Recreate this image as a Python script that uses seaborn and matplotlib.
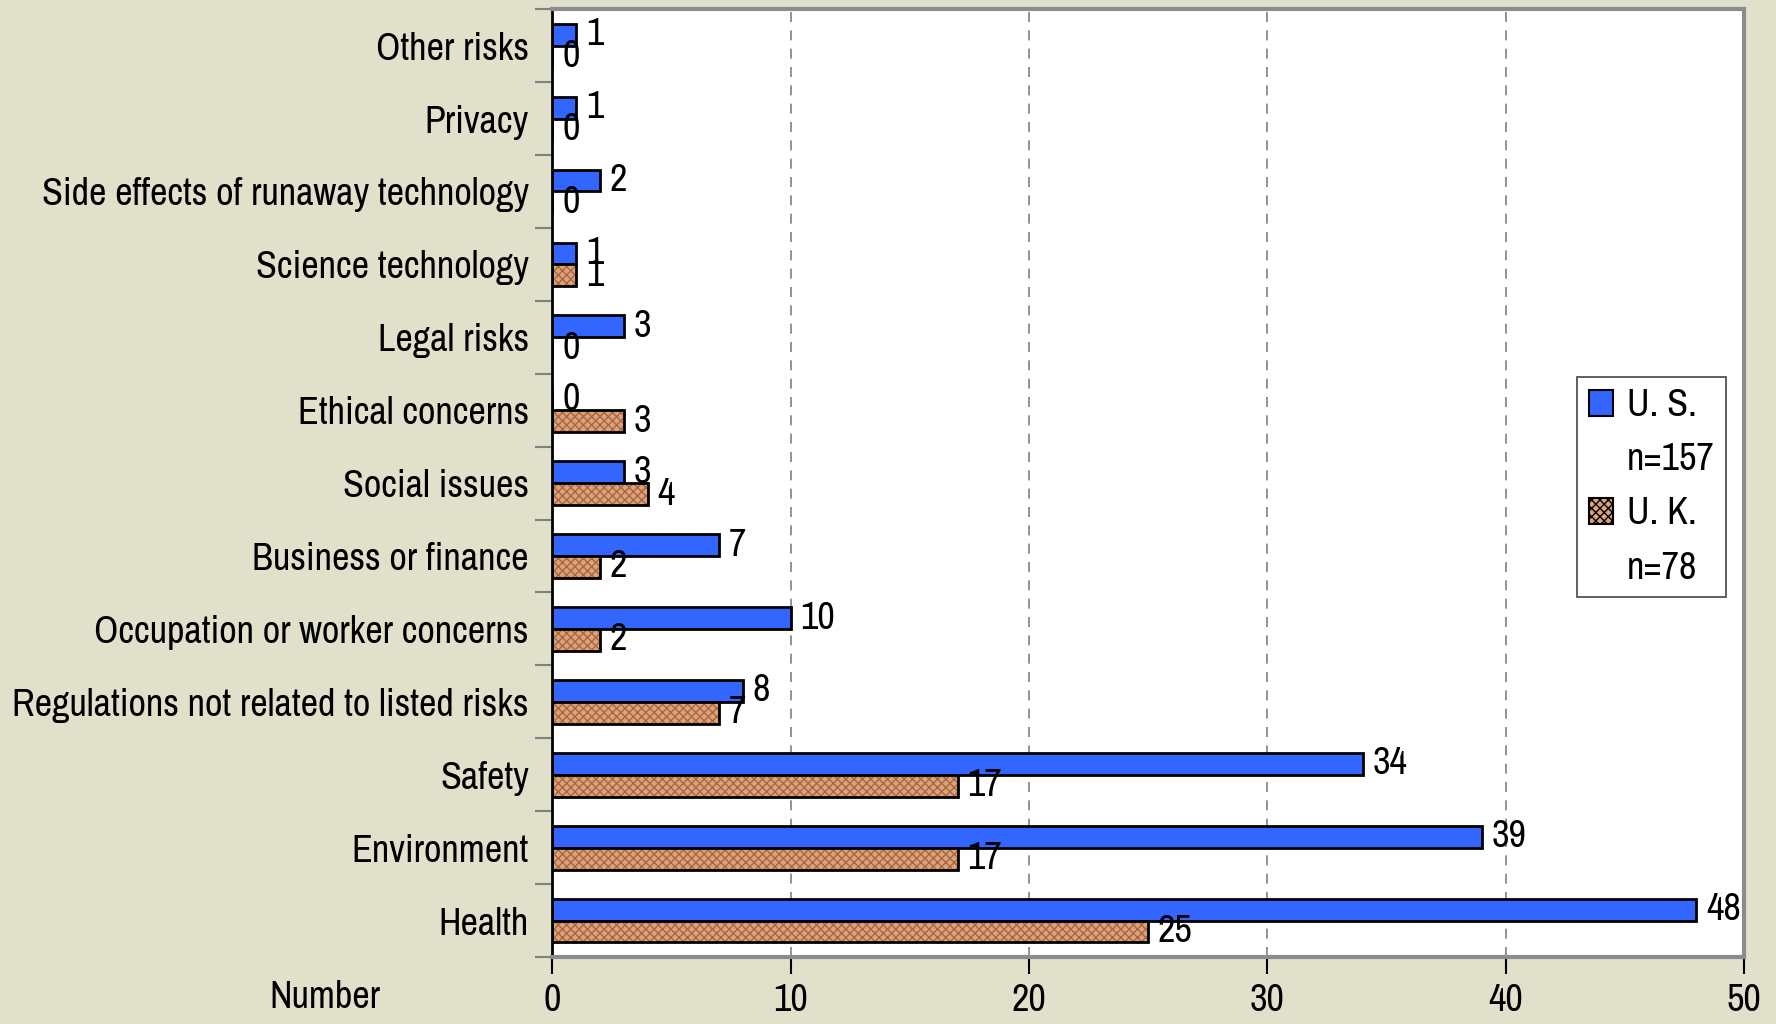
import pandas as pd
import matplotlib
matplotlib.use("Agg")
import matplotlib.pyplot as plt
import matplotlib.patches as mpatches
import seaborn as sns

categories = ["Other risks", "Privacy", "Side effects of runaway technology",
              "Science technology", "Legal risks", "Ethical concerns",
              "Social issues", "Business or finance",
              "Occupation or worker concerns",
              "Regulations not related to listed risks", "Safety",
              "Environment", "Health"]
us_counts = [1, 1, 2, 1, 3, 0, 3, 7, 10, 8, 34, 39, 48]
uk_counts = [0, 0, 0, 1, 0, 3, 4, 2, 2, 7, 17, 17, 25]
series = ["U. S.", "U. K."]
sample_sizes = ["n=157", "n=78"]
x_ticks = [0, 10, 20, 30, 40, 50]

df = pd.DataFrame({
    "category": categories * 2,
    "count": us_counts + uk_counts,
    "country": [series[0]] * len(categories) + [series[1]] * len(categories),
})

sns.set_style("white")
plt.rcParams["font.family"] = ["Archivo Narrow", "DejaVu Sans"]
plt.rcParams["font.size"] = 27.5
plt.rcParams["text.color"] = "black"
plt.rcParams["xtick.color"] = "black"
plt.rcParams["ytick.color"] = "black"

fs = 27.5
bg = "#e1e0cb"
blue = "#3366ff"
tan = "#dba27c"

fig = plt.figure(figsize=(17.76, 10.24), dpi=100, facecolor=bg)
ax = fig.add_axes([0.311, 0.0654, 0.671, 0.9256])
ax.set_facecolor("white")

sns.barplot(data=df, y="category", x="count", hue="country", order=categories,
            hue_order=series, palette=[blue, tan], width=0.6, orient="h",
            edgecolor="black", linewidth=2, saturation=1, legend=False, ax=ax)

# texture for the U.K. bars: brown hatch, then a black outline on top
uk_bars = ax.containers[1]
for p in uk_bars.patches:
    p.set_hatch("xxxx")
    p.set_edgecolor("#a8683f")
    p.set_linewidth(0)
    ax.add_patch(mpatches.Rectangle((p.get_x(), p.get_y()), p.get_width(),
                                    p.get_height(), fill=False,
                                    edgecolor="black", linewidth=2, zorder=3))

for cont in ax.containers:
    ax.bar_label(cont, padding=7, fontsize=fs, color="black")

ax.set_xlim(0, 50)
ax.set_ylim(len(categories) - 0.5, -0.5)
ax.set_xticks(x_ticks)
ax.xaxis.grid(True, linestyle=(0, (6, 5)), color="#808080", linewidth=1.2)
ax.set_axisbelow(True)
ax.tick_params(axis="x", direction="out", length=12, width=1.5,
               pad=7, labelsize=fs, bottom=True)
ax.set_yticks([i + 0.5 for i in range(-1, len(categories))], minor=True)
ax.tick_params(axis="y", which="minor", length=12, width=1.5, color="#808080",
               left=True)
ax.tick_params(axis="y", which="major", length=0, pad=17, labelsize=fs)
ax.set_xlabel("")
ax.set_ylabel("")

for side in ["top", "right", "bottom"]:
    ax.spines[side].set_color("#8c8c8c")
    ax.spines[side].set_linewidth(3)
ax.spines["left"].set_color("black")
ax.spines["left"].set_linewidth(2)

fig.text(0.183, 0.026, "Number", fontsize=fs, ha="center", va="center")

# legend: swatch beside the country, sample size on its own line below
blank = mpatches.Patch(visible=False)
handles = [mpatches.Patch(facecolor=blue, edgecolor="black", linewidth=1.5), blank,
           mpatches.Patch(facecolor=tan, edgecolor="black", linewidth=1.5,
                          hatch="xxxx"), blank]
labels = [series[0], sample_sizes[0], series[1], sample_sizes[1]]
leg = ax.legend(handles, labels, loc="center left", bbox_to_anchor=(0.86, 0.496),
                borderaxespad=0, frameon=True, fancybox=False,
                edgecolor="#444444", fontsize=fs, handlelength=0.65,
                handleheight=0.65, handletextpad=0.35, labelspacing=0.5,
                borderpad=0.3)
leg.get_frame().set_linewidth(1.2)
leg.get_frame().set_facecolor("white")
leg.get_frame().set_alpha(1)

plt.savefig("out.png", dpi=100, facecolor=bg)
